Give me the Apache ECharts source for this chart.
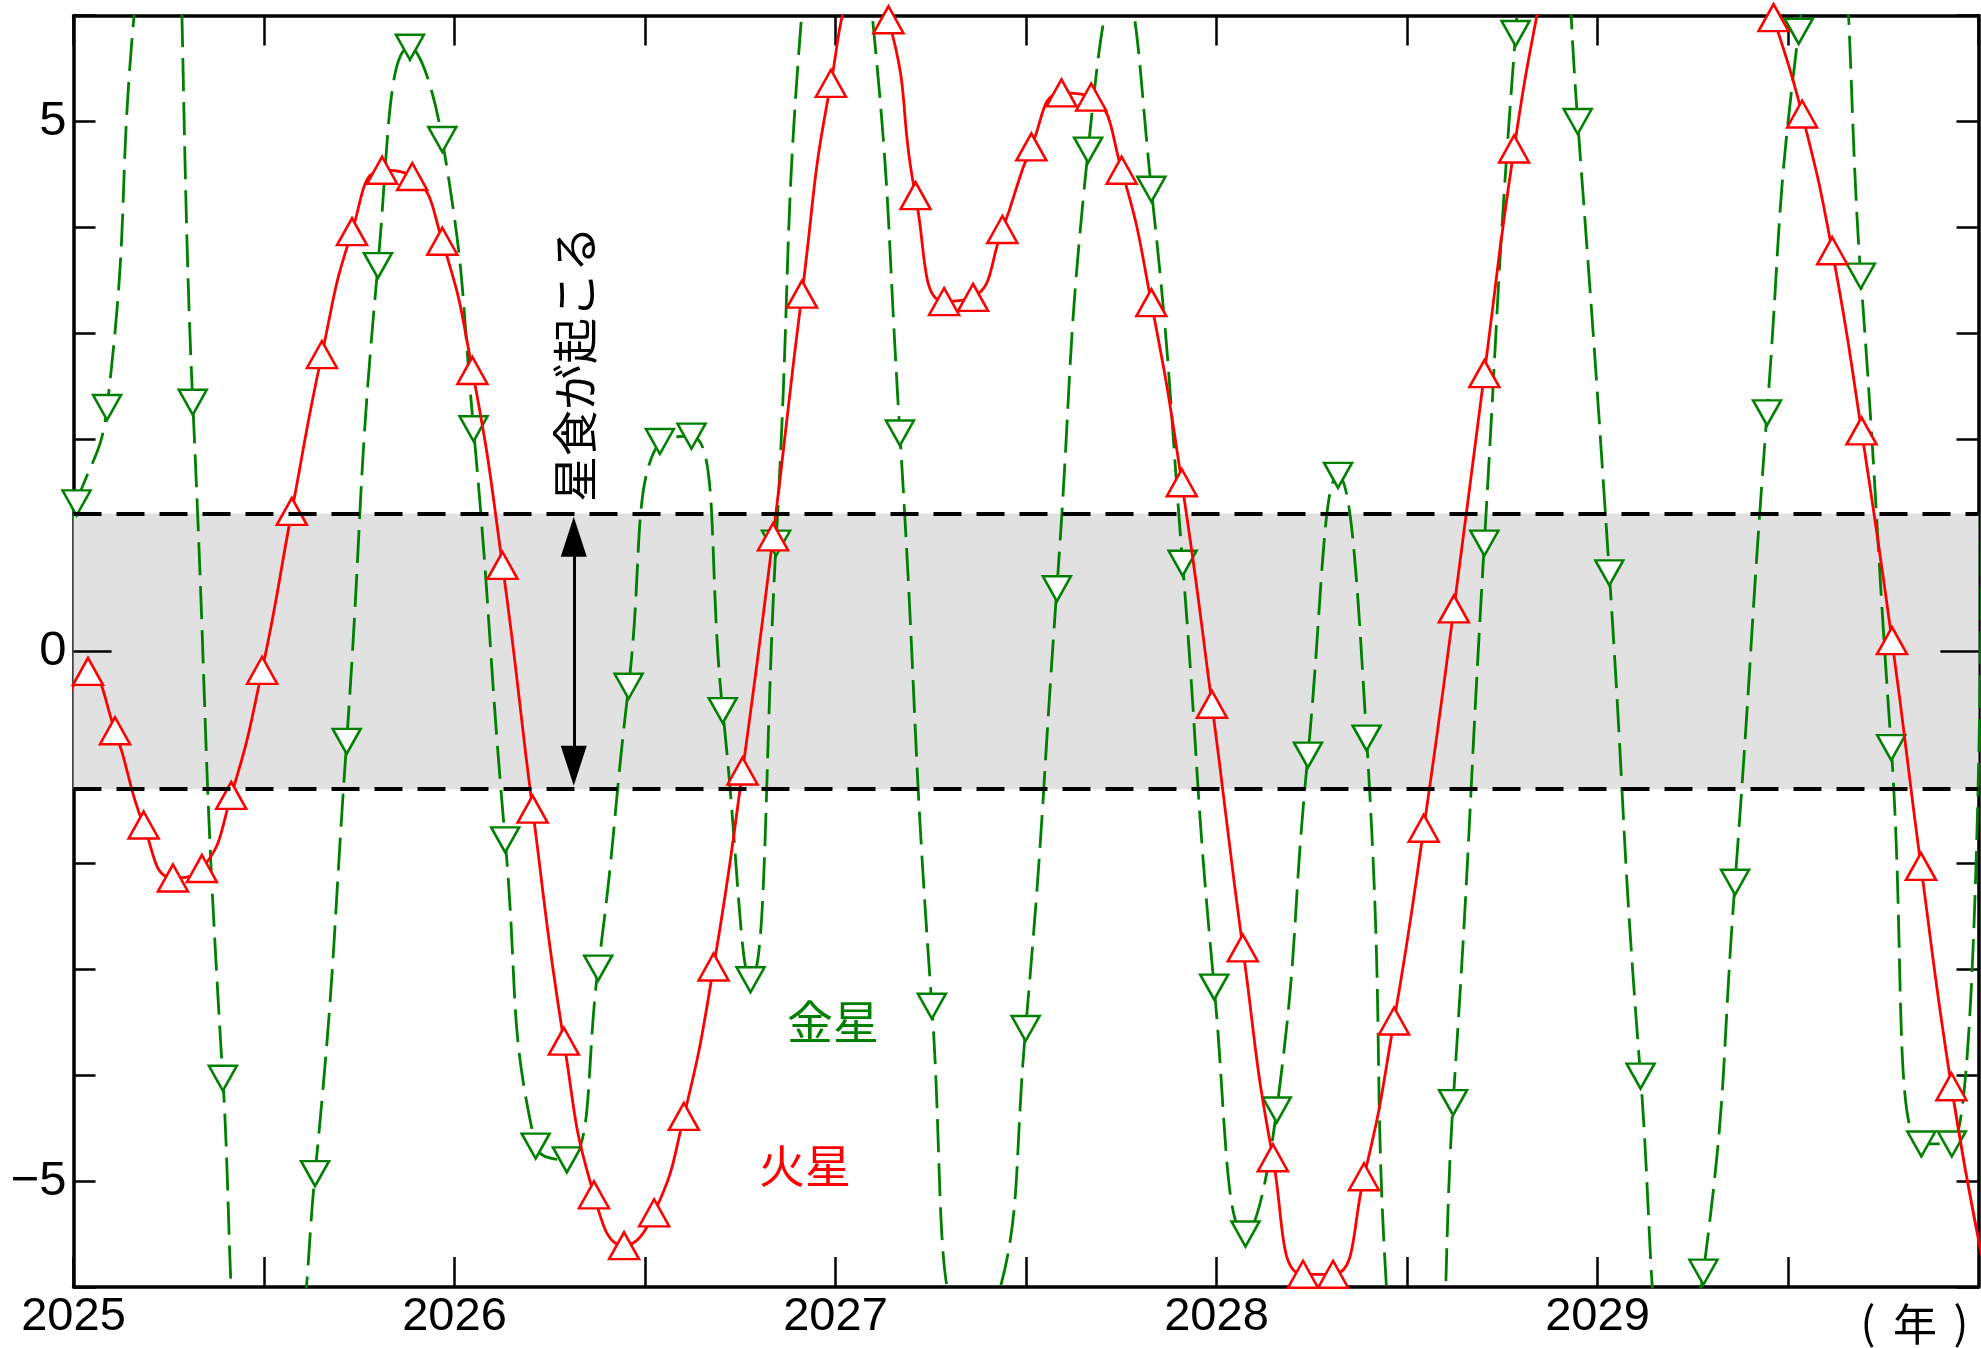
<!DOCTYPE html>
<html>
<head>
<meta charset="utf-8">
<script src="https://cdn.jsdelivr.net/npm/echarts/dist/echarts.min.js"></script>
<style>
html,body{margin:0;padding:0;background:#ffffff;}
#chart{width:1981px;height:1348px;}
</style>
</head>
<body>
<div id="chart"></div>
<script>
// ---- data (years, separation in degrees) ----
const marsDates = [2024.960, 2025.038, 2025.109, 2025.184, 2025.261, 2025.337, 2025.414, 2025.495, 2025.573, 2025.652,
  2025.731, 2025.810, 2025.889, 2025.968, 2026.047, 2026.126, 2026.205, 2026.287, 2026.366, 2026.445,
  2026.524, 2026.602, 2026.680, 2026.756, 2026.836, 2026.912, 2026.988, 2027.063, 2027.139, 2027.210,
  2027.285, 2027.361, 2027.438, 2027.514, 2027.593, 2027.671, 2027.751, 2027.829, 2027.909, 2027.988,
  2028.069, 2028.148, 2028.227, 2028.306, 2028.387, 2028.466, 2028.544, 2028.623, 2028.703, 2028.781,
  2028.857, 2028.933, 2029.008, 2029.084, 2029.160, 2029.235, 2029.311, 2029.387, 2029.462, 2029.537,
  2029.616, 2029.693, 2029.773, 2029.849, 2029.929, 2030.008];
const marsValues = [-0.65, -0.19, -0.75, -1.64, -2.14, -2.05, -1.36, -0.18, 1.32, 2.80,
  3.96, 4.54, 4.48, 3.87, 2.65, 0.81, -1.49, -3.68, -5.13, -5.61,
  -5.30, -4.39, -2.98, -1.13, 1.08, 3.37, 5.36, 6.2, 5.96, 4.30,
  3.30, 3.34, 3.98, 4.76, 5.27, 5.23, 4.54, 3.29, 1.59, -0.50,
  -2.80, -4.78, -5.88, -5.88, -4.96, -3.49, -1.67, 0.40, 2.62, 4.74,
  6.3, 7.6, 8.5, 8.9, 8.8, 8.3, 7.6, 6.8, 5.98, 5.07,
  3.78, 2.08, 0.10, -2.03, -4.11, -5.7];

const venusDates = [2024.930, 2025.008, 2025.088, 2025.164, 2025.238, 2025.313, 2025.392, 2025.473, 2025.554, 2025.634,
  2025.717, 2025.799, 2025.883, 2025.968, 2026.050, 2026.133, 2026.213, 2026.295, 2026.377, 2026.457,
  2026.539, 2026.622, 2026.704, 2026.777, 2026.844, 2026.925, 2027.006, 2027.088, 2027.169, 2027.253,
  2027.335, 2027.417, 2027.499, 2027.581, 2027.663, 2027.746, 2027.829, 2027.911, 2027.994, 2028.076,
  2028.158, 2028.240, 2028.319, 2028.394, 2028.470, 2028.546, 2028.621, 2028.703, 2028.785, 2028.866,
  2028.948, 2029.031, 2029.113, 2029.195, 2029.278, 2029.361, 2029.445, 2029.528, 2029.610, 2029.691,
  2029.771, 2029.850, 2029.930, 2030.012];
const venusValues = [0.6, 1.40, 2.30, 6.2, 8.0, 2.35, -4.03, -7.0, -6.9, -4.93,
  -0.85, 3.64, 5.70, 4.83, 2.10, -1.78, -4.67, -4.80, -2.99, -0.33,
  1.98, 2.03, -0.56, -3.10, 1.02, 6.6, 7.8, 6.3, 2.06, -3.35,
  -6.3, -6.2, -3.56, 0.59, 4.73, 6.35, 4.36, 0.83, -3.17, -5.50,
  -4.33, -0.98, 1.66, -0.82, -7.2, -7.6, -4.26, 1.02, 5.83, 8.8,
  5.0, 0.74, -4.01, -6.8, -5.86, -2.18, 2.25, 5.85, 7.0, 3.54,
  -0.91, -4.65, -4.65, 2.5];

// occultation band limits and annotation
const bandLimits = [1.3, -1.3];
const arrowYear = 2026.313;
const arrowEnds = [1.08, -1.08];

// axes / tick labels
const xRange = [2025, 2030];
const yRange = [-6, 6];
const xTickLabels = ['2025', '2026', '2027', '2028', '2029'];
const yTickValues = [-5, 0, 5];
const yTickLabels = ['\u22125', '0', '5'];
const seriesNames = ['金星', '火星'];
const annotationText = '星食が起こる';
const unitParts = ['(', '年', ')'];

const marsData = marsDates.map((d, i) => [d, marsValues[i]]);
const venusData = venusDates.map((d, i) => [d, venusValues[i]]);

const chart = echarts.init(document.getElementById('chart'), null, {renderer: 'canvas'});

const axisLineStyle = {color: '#000', width: 3.5};
const tickStyle = {color: '#000', width: 2.5};
const latin = '"Liberation Sans", Arial, Helvetica, sans-serif';
const cjk = '"Noto Sans CJK JP", "Noto Sans CJK SC", sans-serif';

function xLabel(v) {
  const s = String(Math.round(v * 100) / 100);
  return xTickLabels.indexOf(s) >= 0 ? s : '';
}
function yLabel(v) {
  const k = yTickValues.indexOf(Math.round(v * 100) / 100);
  return k >= 0 ? yTickLabels[k] : '';
}
function txt(x, y, text, size, color, rot) {
  return {
    type: 'text', x: x, y: y, rotation: rot || 0, z: 100, silent: true,
    style: {text: text, font: size + 'px ' + cjk, fill: color, align: 'center', verticalAlign: 'middle', textAlign: 'center', textVerticalAlign: 'middle'}
  };
}

const option = {
  animation: false,
  backgroundColor: '#ffffff',
  grid: {left: 73.5, right: 2.5, top: 15.5, bottom: 61, containLabel: false, outerBoundsMode: 'none'},
  xAxis: [
    {
      type: 'value', min: xRange[0], max: xRange[1], interval: 0.5, position: 'bottom',
      axisLine: {show: true, onZero: false, lineStyle: axisLineStyle},
      axisTick: {show: true, inside: true, length: 30, lineStyle: tickStyle},
      axisLabel: {show: true, formatter: xLabel, fontFamily: latin, fontSize: 47, color: '#000', margin: 7, showMaxLabel: false, showMinLabel: true, hideOverlap: false},
      splitLine: {show: false}
    },
    {
      type: 'value', min: xRange[0], max: xRange[1], interval: 0.5, position: 'top',
      axisLine: {show: true, onZero: false, lineStyle: axisLineStyle},
      axisTick: {show: true, inside: true, length: 30, lineStyle: tickStyle},
      axisLabel: {show: false},
      splitLine: {show: false}
    }
  ],
  yAxis: [
    {
      type: 'value', min: yRange[0], max: yRange[1], interval: 1, position: 'left',
      axisLine: {show: true, onZero: false, lineStyle: axisLineStyle},
      axisTick: {show: true, inside: true, length: 22, lineStyle: tickStyle},
      axisLabel: {show: true, formatter: yLabel, fontFamily: latin, fontSize: 49, color: '#000', margin: 7, showMinLabel: true, showMaxLabel: true, hideOverlap: false},
      splitLine: {show: false}
    },
    {
      type: 'value', min: yRange[0], max: yRange[1], interval: 1, position: 'right',
      axisLine: {show: true, onZero: false, lineStyle: axisLineStyle},
      axisTick: {show: true, inside: true, length: 22, lineStyle: tickStyle},
      axisLabel: {show: false},
      splitLine: {show: false}
    }
  ],
  series: [
    {
      name: seriesNames[0],
      type: 'line',
      xAxisIndex: 0, yAxisIndex: 0,
      data: venusData,
      smooth: 0.5,
      clip: true,
      showAllSymbol: true,
      symbol: 'triangle',
      symbolRotate: 180,
      symbolSize: [28, 25],
      itemStyle: {color: '#ffffff', borderColor: '#008000', borderWidth: 2.5},
      lineStyle: {color: '#008000', width: 2.8, type: [33, 11]},
      emphasis: {disabled: true},
      silent: true,
      z: 3,
      markArea: {
        silent: true,
        itemStyle: {color: '#e1e1e1'},
        data: [[{yAxis: bandLimits[0]}, {yAxis: bandLimits[1]}]]
      },
      markLine: {
        silent: true,
        symbol: 'none',
        label: {show: false},
        animation: false,
        data: [
          {yAxis: bandLimits[0], lineStyle: {color: '#000', width: 4, type: [28, 15]}},
          {yAxis: bandLimits[1], lineStyle: {color: '#000', width: 4, type: [28, 15]}},
          [
            {coord: [arrowYear, arrowEnds[0]], symbol: 'triangle', symbolSize: [26, 40]},
            {coord: [arrowYear, arrowEnds[1]], symbol: 'triangle', symbolSize: [26, 40], lineStyle: {color: '#000', width: 3, type: 'solid'}}
          ],
          [
            {coord: [xRange[0], 0], symbol: 'none'},
            {coord: [xRange[0] + 0.1, 0], symbol: 'none', lineStyle: {color: '#000', width: 2.5, type: 'solid'}}
          ],
          [
            {coord: [xRange[1] - 0.1, 0], symbol: 'none'},
            {coord: [xRange[1], 0], symbol: 'none', lineStyle: {color: '#000', width: 2.5, type: 'solid'}}
          ]
        ],
        itemStyle: {color: '#000'}
      }
    },
    {
      name: seriesNames[1],
      type: 'line',
      xAxisIndex: 0, yAxisIndex: 0,
      data: marsData,
      smooth: 0.5,
      clip: true,
      showAllSymbol: true,
      symbol: 'triangle',
      symbolSize: [30, 27],
      itemStyle: {color: '#ffffff', borderColor: '#ff0000', borderWidth: 2.5},
      lineStyle: {color: '#ff0000', width: 2.8, type: 'solid'},
      emphasis: {disabled: true},
      silent: true,
      z: 4
    }
  ],
  graphic: [
    txt(575, 364, annotationText, 46, '#000', Math.PI / 2),
    txt(833, 1022, seriesNames[0], 46, '#008000'),
    txt(805, 1166, seriesNames[1], 46, '#ff0000'),
    txt(1868, 1322, unitParts[0], 44, '#000'),
    txt(1915, 1324, unitParts[1], 44, '#000'),
    txt(1961, 1322, unitParts[2], 44, '#000')
  ]
};
chart.setOption(option);
</script>
</body>
</html>
